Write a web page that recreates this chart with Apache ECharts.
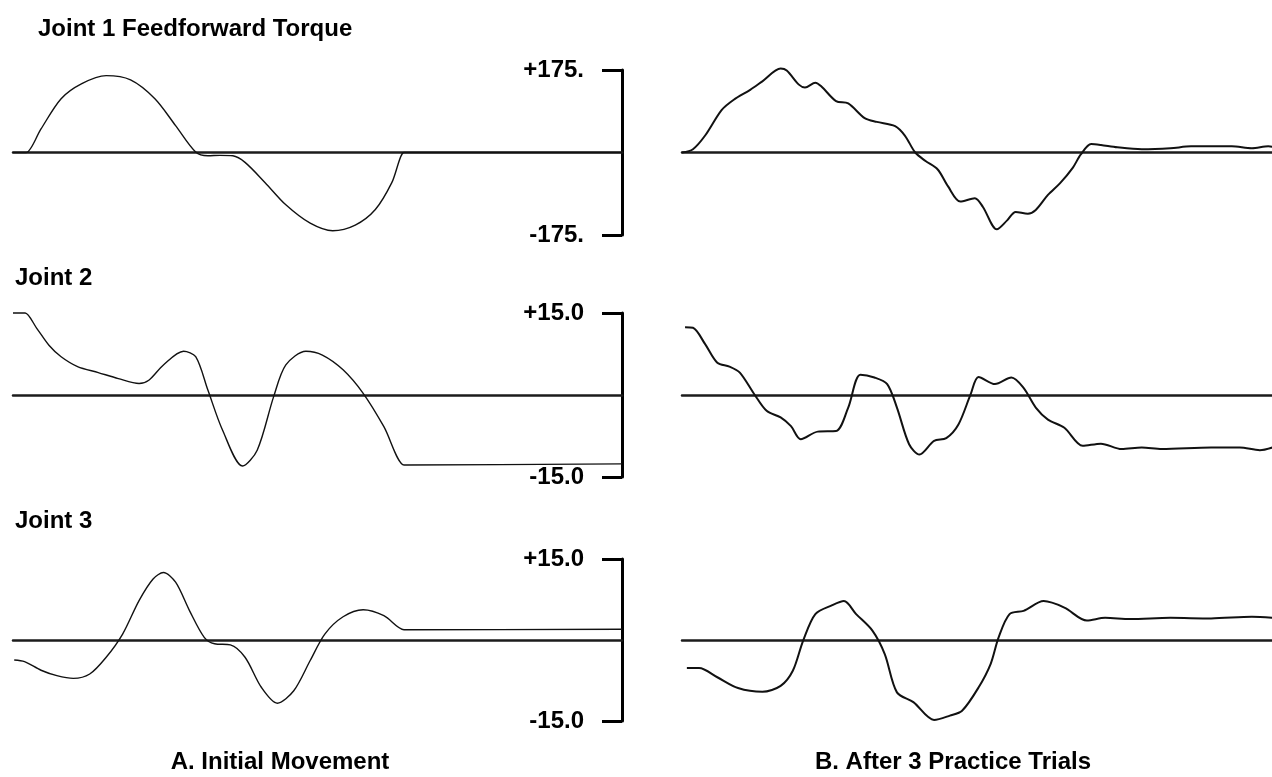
<!DOCTYPE html>
<html><head><meta charset="utf-8">
<script src="https://cdn.jsdelivr.net/npm/echarts@6/dist/echarts.min.js"></script>
<style>html,body{margin:0;padding:0;background:#fff}#c{width:1272px;height:777px}</style>
</head><body><div id="c"></div>
<script>
// ---- text ----
const rowTitles = ['Joint 1 Feedforward Torque', 'Joint 2', 'Joint 3'];
const panelCaptions = ['A. Initial Movement', 'B. After 3 Practice Trials'];
const scaleMax = [175, 15, 15];
const scaleLabels = [['+175.', '-175.'], ['+15.0', '-15.0'], ['+15.0', '-15.0']];

// ---- data (time in normalized units, value in axis units) ----
const j1aT = [0, 2.0, 2.2, 4.6, 7.9, 11.3, 15.3, 19.3, 23.3, 26.7, 30, 32, 34, 36.1, 38.1, 41.4, 44.8, 48.8, 52.5, 56.2, 59.5, 62.2, 64.2, 64.6, 100];
const j1aV = [0, 0, 0, 50, 114, 146, 163, 154, 114, 57, 1, -7, -6, -7, -21, -64, -111, -150, -166, -154, -121, -64, 0, 0, 0];

const j1bT = [0, 1.8, 3.8, 6.5, 8.5, 11.2, 13.2, 16.2, 17.2, 19.2, 20.2, 21.9, 22.9, 25.3, 27.3, 30, 32, 35, 36.6, 38.3, 40, 42, 43.7, 45.7, 48.1, 49.4, 51.7, 53.4, 54.8, 56.8, 58.1, 60.1, 62.1, 64.2, 65.5, 67.2, 68.8, 71.5, 75.5, 80.2, 83.6, 90.3, 93.6, 96.3, 97];
const j1bV = [0, 7, 36, 90, 112, 133, 151, 178, 174, 144, 138, 148, 140, 109, 104, 73, 65, 56, 36, 0, -18, -36, -72, -104, -97, -115, -163, -144, -126, -130, -122, -90, -65, -32, -4, 18, 16, 11, 7, 9, 13, 13, 9, 13, 12];

const j2aT = [0, 1.8, 2.0, 3.9, 5.9, 7.9, 10.6, 14, 17.3, 20.7, 22.3, 24.7, 28, 30, 32, 34.4, 37.7, 40.1, 42.8, 44.8, 48.1, 50.8, 54.2, 57.5, 60.9, 64.2, 64.6, 100];
const j2aV = [15, 15, 15, 12.2, 9.1, 7.0, 5.2, 4.1, 3.0, 2.1, 2.7, 5.5, 8.0, 7.0, 0.9, -6.4, -13.0, -10.1, -0.3, 5.5, 8.0, 7.3, 4.6, 0.3, -5.8, -12.8, -12.8, -12.6];

const j2bT = [0.5, 1.8, 3.8, 5.8, 7.8, 9.5, 11.9, 13.9, 16.2, 17.9, 19.5, 22.3, 25.3, 27.3, 29.3, 31.6, 33.7, 35.3, 37.3, 39, 41.4, 43.4, 45.4, 47.4, 48.7, 51.4, 54.1, 56.1, 58.1, 60.1, 62.8, 65.8, 68.8, 72.2, 75.5, 78.8, 86.9, 91.6, 94.9, 97];
const j2bV = [12.4, 12.3, 9.3, 5.9, 5.2, 4.1, 0.1, -2.9, -4.1, -5.7, -8.1, -6.7, -6.6, -2.3, 3.7, 3.2, 2.0, -2.3, -9.0, -10.9, -8.4, -7.9, -5.4, 0.1, 3.3, 2.0, 3.2, 1.3, -2.3, -4.5, -6.0, -9.3, -8.9, -9.9, -9.6, -9.9, -9.6, -9.6, -10.1, -9.6];

const j3aT = [0.2, 1.9, 4.6, 7.2, 9.9, 12.6, 15.3, 18, 20.7, 23, 24.7, 26.7, 29, 31.4, 33.1, 35.7, 38.1, 40.8, 43.4, 46.1, 48.8, 51.2, 54.2, 57.5, 60.9, 64.2, 64.6, 100];
const j3aV = [-3.7, -4.0, -5.6, -6.6, -7.1, -6.3, -3.2, 1.1, 7.3, 11.3, 12.5, 10.7, 5.4, 0.5, -0.7, -0.9, -3.2, -8.8, -11.7, -9.4, -3.8, 1.1, 4.3, 5.6, 4.5, 1.9, 1.9, 2.0];

const j3bT = [0.8, 2.8, 5.8, 9.2, 13.2, 16.2, 18.2, 19.9, 21.9, 24.6, 26.6, 28.6, 31.3, 33.3, 35.3, 38, 41.4, 44, 46, 48.7, 50.7, 52, 53.8, 56.1, 59.4, 62.8, 66.5, 69.5, 73.6, 80.2, 86.9, 93.6, 97];
const j3bV = [-5.2, -5.2, -6.9, -8.9, -9.6, -8.5, -5.7, -0.1, 4.8, 6.4, 7.2, 4.8, 1.7, -2.6, -9.7, -11.5, -14.8, -14.0, -13.1, -8.8, -4.4, 0.5, 4.8, 5.4, 7.2, 6.0, 3.6, 4.1, 3.9, 4.1, 4.0, 4.3, 4.1];

const panels = [
  [j1aT, j1aV], [j1bT, j1bV],
  [j2aT, j2aV], [j2bT, j2bV],
  [j3aT, j3aV], [j3bT, j3bV]
];

// ---- layout ----
const FONT = '"Liberation Sans", Arial, sans-serif';
const rowTop = [70, 313, 559];
const rowH = [165, 164, 162];
const colLeft = [13, 682];
const colW = [609, 590];
const colMax = [100, 96.9];
const curveW = [1.4, 2.0];

const grid = [], xAxis = [], yAxis = [], series = [];
for (let r = 0; r < 3; r++) {
  for (let c = 0; c < 2; c++) {
    const i = r * 2 + c;
    const S = scaleMax[r];
    grid.push({ left: colLeft[c], width: colW[c], top: rowTop[r], height: rowH[r], containLabel: false });
    xAxis.push({
      type: 'value', gridIndex: i, min: 0, max: colMax[c],
      axisLine: { show: true, onZero: true, lineStyle: { color: '#1c1c1c', width: 2.5 } },
      axisTick: { show: false }, axisLabel: { show: false }, splitLine: { show: false }
    });
    if (c === 0) {
      const labs = scaleLabels[r];
      yAxis.push({
        type: 'value', gridIndex: i, position: 'right', min: -S, max: S,
        axisLine: { show: true, onZero: false, lineStyle: { color: '#000', width: 3 } },
        axisTick: { show: true, inside: true, length: 20, customValues: [-S, S], lineStyle: { color: '#000', width: 3 } },
        axisLabel: {
          show: true, inside: true, margin: 38, customValues: [-S, S],
          formatter: v => (v > 0 ? labs[0] : labs[1]),
          color: '#000', fontSize: 24, fontWeight: 'bold', fontFamily: FONT
        },
        splitLine: { show: false }
      });
    } else {
      yAxis.push({ type: 'value', gridIndex: i, min: -S, max: S, show: false, splitLine: { show: false } });
    }
    const [T, V] = panels[i];
    series.push({
      type: 'line', xAxisIndex: i, yAxisIndex: i,
      data: T.map((t, k) => [t, V[k]]),
      showSymbol: false, smooth: 0.3, clip: false, silent: true,
      lineStyle: { color: '#111', width: curveW[c] }
    });
  }
}

const textStyle = { font: 'bold 24px ' + FONT, fill: '#000', verticalAlign: 'middle' };
const graphic = [
  { type: 'text', x: 38, y: 29, style: Object.assign({ text: rowTitles[0], align: 'left' }, textStyle) },
  { type: 'text', x: 15, y: 278, style: Object.assign({ text: rowTitles[1], align: 'left' }, textStyle) },
  { type: 'text', x: 15, y: 521, style: Object.assign({ text: rowTitles[2], align: 'left' }, textStyle) },
  { type: 'text', x: 280, y: 762, style: Object.assign({ text: panelCaptions[0], align: 'center' }, textStyle) },
  { type: 'text', x: 953, y: 762, style: Object.assign({ text: panelCaptions[1], align: 'center' }, textStyle) }
];

const chart = echarts.init(document.getElementById('c'), null, { renderer: 'canvas' });
chart.setOption({
  backgroundColor: '#fff',
  animation: false,
  grid, xAxis, yAxis, series, graphic
});
</script>
</body></html>
